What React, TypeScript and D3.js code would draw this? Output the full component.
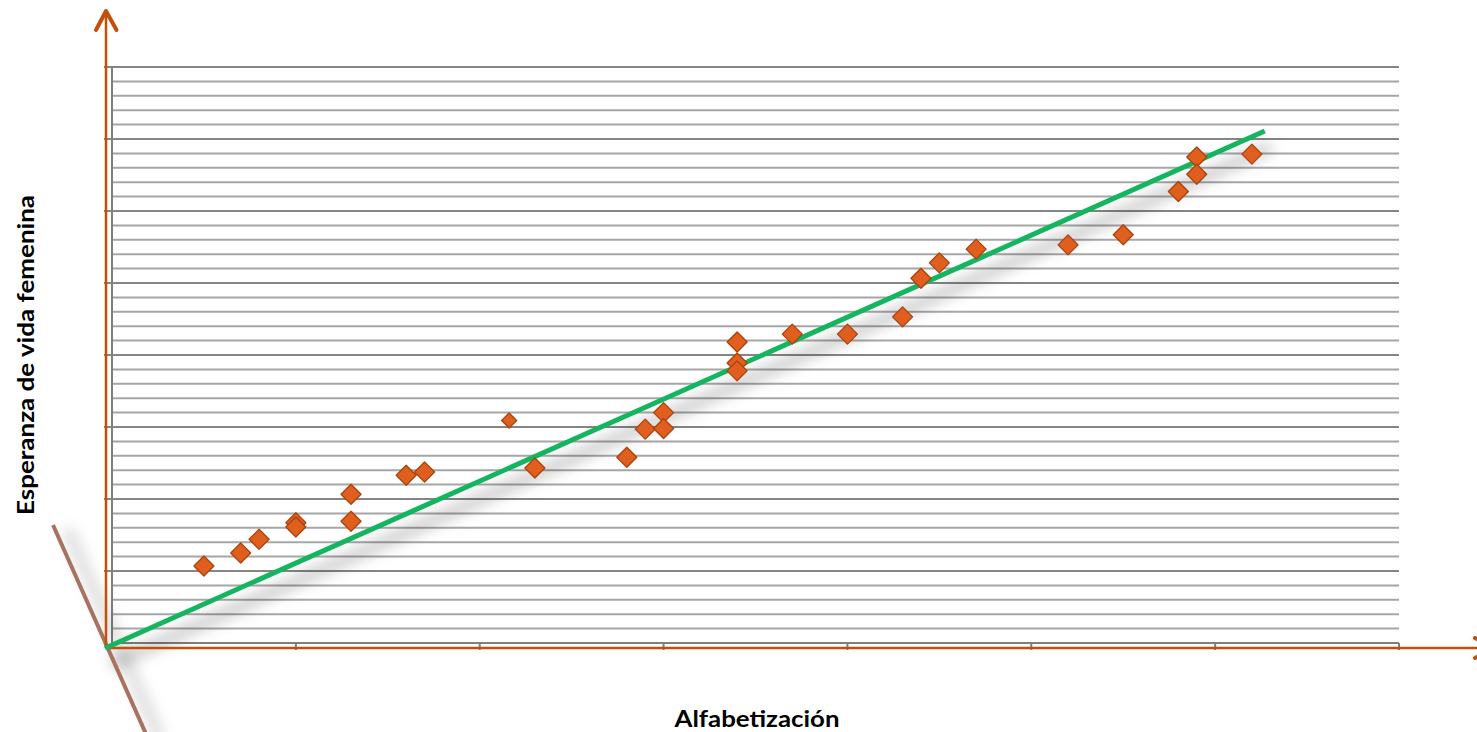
import React from "react";
import * as d3 from "d3";

// Literacy (%) vs. female life expectancy, one entry per country
const literacy = [5, 7, 8, 10, 10, 13, 13, 16, 17, 21.6, 23, 28, 29, 30, 30, 34, 34, 34, 37, 40, 43, 44, 45, 47, 52, 55, 58, 59, 59, 62];
const lifeExpectancy = [10.7, 12.5, 14.4, 16.7, 16.1, 20.65, 16.9, 23.3, 23.75, 30.9, 24.3, 25.8, 29.7, 32.0, 29.8, 41.8, 38.9, 37.8, 42.9, 42.9, 45.3, 50.65, 52.8, 54.7, 55.3, 56.7, 62.7, 67.5, 65.1, 67.9];
// the one smaller marker in the series
const markerSmall = [false, false, false, false, false, false, false, false, false, true, false, false, false, false, false, false, false, false, false, false, false, false, false, false, false, false, false, false, false, false];

// Trend line endpoints
const trendX = [-0.38, 62.7];
const trendY = [-0.72, 71.1];

const xTicks = [0, 10, 20, 30, 40, 50, 60, 70];
const yMajor = [10, 20, 30, 40, 50, 60, 70, 80];
const yMinor = d3.range(2, 80, 2).filter((v) => v % 10 !== 0);

const W = 1477;
const H = 732;

export default function App() {
  const x = d3.scaleLinear().domain([0, 70]).range([112, 1399]);
  const y = d3.scaleLinear().domain([0, 80]).range([643, 67]);

  const axisX = 106; // orange frame
  const axisY = 648;

  const diamond = (cx: number, cy: number, r: number) =>
    `M${cx},${cy - r}L${cx + r},${cy}L${cx},${cy + r}L${cx - r},${cy}Z`;

  const trendLine = d3
    .line<number>()
    .x((_, i) => x(trendX[i]))
    .y((d) => y(d))(trendY) as string;

  return (
    <svg
      width={W}
      height={H}
      style={{ position: "absolute", left: 0, top: 0, display: "block", background: "#fff" }}
    >
      <defs>
        <filter id="softShadow" x="-20%" y="-50%" width="140%" height="200%">
          <feGaussianBlur stdDeviation="7" />
        </filter>
      </defs>

      {/* minor gridlines */}
      {yMinor.map((v) => (
        <line key={"mn" + v} x1={x(0)} x2={x(70)} y1={y(v)} y2={y(v)} stroke="#a6a6a6" strokeWidth={2} />
      ))}
      {/* major gridlines with left ticks */}
      {yMajor.map((v) => (
        <line key={"mj" + v} x1={x(0) - 8} x2={x(70)} y1={y(v)} y2={y(v)} stroke="#858585" strokeWidth={2} />
      ))}
      {/* plot axes */}
      <line x1={x(0)} x2={x(0)} y1={y(80)} y2={y(0) + 1} stroke="#7f7f7f" strokeWidth={2} />
      <line x1={x(0)} x2={x(70)} y1={y(0)} y2={y(0)} stroke="#7f7f7f" strokeWidth={2} />
      {xTicks.slice(1).map((v) => (
        <line key={"xt" + v} x1={x(v)} x2={x(v)} y1={y(0)} y2={y(0) + 7} stroke="#7f7f7f" strokeWidth={2} />
      ))}

      {/* trend line shadow */}
      <path d={trendLine} transform="translate(6,16)" stroke="#000" strokeOpacity={0.2} strokeWidth={12} fill="none" filter="url(#softShadow)" />

      {/* decorative diagonal and its shadow */}
      <line x1={53} y1={525} x2={146} y2={734} stroke="#000" strokeOpacity={0.16} strokeWidth={10} transform="translate(14,4)" filter="url(#softShadow)" />
      <line x1={53} y1={525} x2={146} y2={734} stroke="#a8735e" strokeWidth={4} />

      {/* orange frame axes with arrows */}
      <line x1={axisX} x2={axisX} y1={axisY} y2={12} stroke="#c0500a" strokeWidth={2.5} />
      <polyline points={`${axisX - 10},30 ${axisX},11 ${axisX + 10.5},30`} fill="none" stroke="#c0500a" strokeWidth={4} strokeLinecap="round" strokeLinejoin="round" />
      <line x1={axisX} x2={W + 10} y1={axisY} y2={axisY} stroke="#c0500a" strokeWidth={2.5} />
      <polyline points={`${W - 2},638 ${W + 17},${axisY} ${W - 2},658`} fill="none" stroke="#c0500a" strokeWidth={4} strokeLinecap="round" strokeLinejoin="round" />

      {/* trend line */}
      <path d={trendLine} stroke="#13b55f" strokeWidth={5} fill="none" strokeLinecap="butt" />

      {/* points */}
      {literacy.map((v, i) => (
        <path
          key={"p" + i}
          d={diamond(x(v), y(lifeExpectancy[i]), markerSmall[i] ? 7.5 : 10)}
          fill="#e05f1e"
          stroke="#a8430f"
          strokeWidth={1.3}
          strokeLinejoin="round"
        />
      ))}

      {/* axis titles */}
      <text
        x={757}
        y={727}
        textAnchor="middle"
        fontFamily="Lato, 'Open Sans', sans-serif"
        fontWeight="bold"
        fontSize={22}
        textLength={165}
        lengthAdjust="spacingAndGlyphs"
        fill="#000"
      >
        Alfabetización
      </text>
      <text
        transform="translate(34,355) rotate(-90)"
        textAnchor="middle"
        fontFamily="Lato, 'Open Sans', sans-serif"
        fontWeight="bold"
        fontSize={22}
        textLength={320}
        lengthAdjust="spacingAndGlyphs"
        fill="#000"
      >
        Esperanza de vida femenina
      </text>
    </svg>
  );
}
